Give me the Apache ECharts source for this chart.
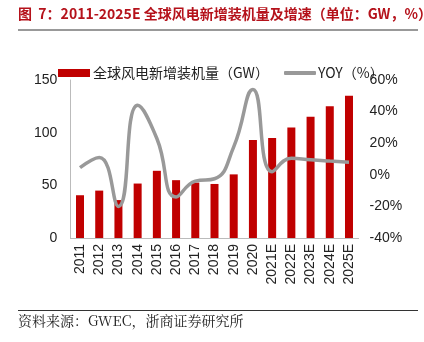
<!DOCTYPE html>
<html><head><meta charset="utf-8">
<script src="https://cdn.jsdelivr.net/npm/echarts@6/dist/echarts.min.js"></script>
<style>html,body{margin:0;padding:0;background:#fff;}#c{width:424px;height:342px;}</style>
</head><body><div id="c"></div>
<script>
var categories = ['2011','2012','2013','2014','2015','2016','2017','2018','2019','2020','2021E','2022E','2023E','2024E','2025E'];
var installed = [40.6, 45, 36, 51.7, 63.8, 54.9, 52.6, 51.3, 60.4, 93, 95, 105, 115, 125, 135];
var yoy = [4.5, 11, -20, 44, 23, -14, -4, -2.5, 17.7, 54, 2, 10.5, 9.5, 8.7, 8];
var leftTicks = [0, 50, 100, 150];
var rightTicks = [-40, -20, 0, 20, 40, 60];
var title = '图  7：2011-2025E 全球风电新增装机量及增速（单位：GW，%）';
var source = '资料来源：GWEC，浙商证券研究所';

var barName = '全球风电新增装机量（GW）';
var lineName = 'YOY（%）';
var numFont = 'Liberation Sans, Arial, sans-serif';

var chart = echarts.init(document.getElementById('c'));
chart.setOption({
  animation: false,
  graphic: [
    {type:'text', left:18, top:7, style:{text:title, fill:'#b5121b', font:'bold 14px "Noto Sans CJK SC", sans-serif'}},
    {type:'rect', shape:{x:18, y:29, width:400, height:2}, style:{fill:'#999'}},
    {type:'rect', shape:{x:18, y:310, width:400, height:1}, style:{fill:'#333'}},
    {type:'text', left:18, top:314, style:{text:source, fill:'#222', font:'14px "Noto Serif CJK SC", "Noto Sans CJK SC", serif'}}
  ],
  legend: [
    {top: 61, left: 53, itemWidth: 32, itemHeight: 8, itemGap: 3,
     textStyle: {fontSize: 14, color: '#222', fontFamily: '"Noto Sans CJK SC", sans-serif', padding:[0,0,0,-2]},
     data: [{name: barName, icon:'rect'}]},
    {top: 61, left: 279, itemWidth: 32, itemHeight: 4, itemGap: 3,
     textStyle: {fontSize: 14, color: '#222', fontFamily: '"Noto Sans CJK SC", sans-serif', padding:[0,0,0,-3]},
     data: [{name: lineName, icon:'roundRect'}]}
  ],
  grid: {left: 70.4, right: 65.4, top: 80, bottom: 104},
  xAxis: {
    type: 'category', data: categories,
    axisLine: {lineStyle:{color:'#bbb'}}, axisTick:{show:false},
    axisLabel: {rotate: 90, interval: 0, color:'#222', fontSize: 14, fontFamily: numFont, margin: 6}
  },
  yAxis: [
    {type:'value', min: leftTicks[0], max: leftTicks[leftTicks.length-1], interval: 50,
     axisLine:{show:true, lineStyle:{color:'#bbb'}}, axisTick:{show:false}, splitLine:{show:false},
     axisLabel:{color:'#222', fontSize:14, fontFamily: numFont, margin: 13}},
    {type:'value', min: rightTicks[0], max: rightTicks[rightTicks.length-1], interval: 20,
     axisLine:{show:false}, axisTick:{show:false}, splitLine:{show:false},
     axisLabel:{color:'#222', fontSize:14, fontFamily: numFont, margin: 11, formatter:'{value}%'}}
  ],
  series: [
    {name: barName, type:'bar', data: installed, barWidth: 8, itemStyle:{color:'#c00000'}},
    {name: lineName, type:'line', yAxisIndex:1, data: yoy, smooth: 0.5, symbol:'none',
     lineStyle:{color:'#999', width:3.5}, itemStyle:{color:'#999'}}
  ]
});
</script></body></html>
